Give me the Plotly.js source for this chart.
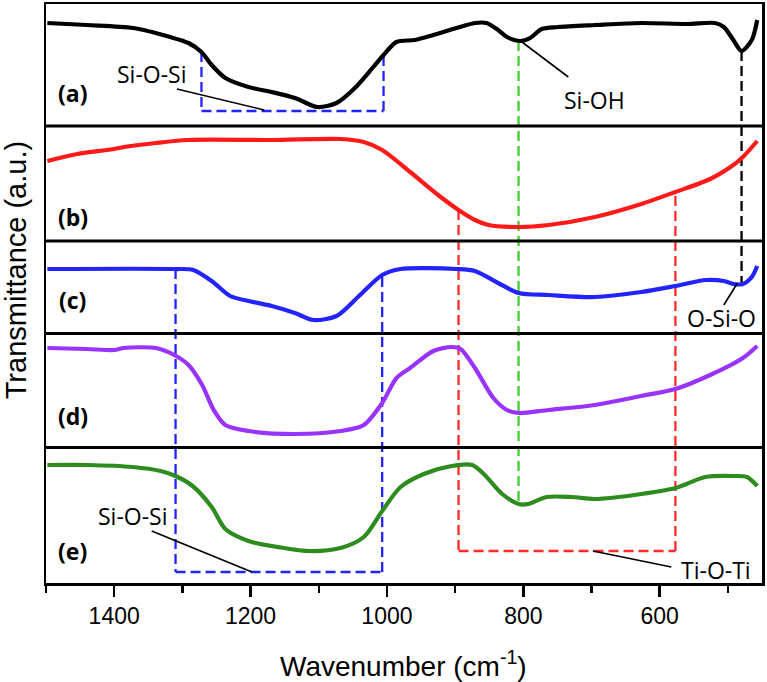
<!DOCTYPE html>
<html>
<head>
<meta charset="utf-8">
<script src="https://cdn.plot.ly/plotly-3.0.1.min.js"></script>
<style>html,body{margin:0;padding:0;background:#fff;}#chart{width:767px;height:682px;}</style>
</head>
<body>
<div id="chart"></div>
<script>
// ---- data (wavenumber in cm^-1, stacked transmittance in a.u.) ----
const wnA = [1498,1440,1372,1318,1291,1272,1257,1237,1203,1169,1135,1102,1074,1047,1020,1005,986,959,932,898,871,854,837,824,804,790,773,749,695,627,560,519,506,492,480,465,457];
const trA = [560,558,555,546,540,531,518,505,496,491,485,476,480,495,516,528,541,543,548,555,560,560,553,546,542,545,554,556,558,560,559,560,556,543,532,543,563];

const wnB = [1498,1454,1400,1386,1339,1291,1169,1068,1034,1007,966,925,895,871,851,807,763,695,627,577,526,492,478,457];
const trB = [422,429,434,436,440,443,443,444,441,433,411,388,373,363,358,356,358,366,379,391,404,418,426,442];

const wnC = [1498,1312,1284,1257,1230,1203,1169,1135,1108,1074,1041,1007,980,898,871,837,807,763,695,627,577,532,506,492,478,465,457];
const trC = [314,314,313,302,287,282,277,270,263,267,287,308,314,314,312,300,290,288,286,291,297,303,302,299,299,306,317];

const wnD = [1498,1440,1400,1386,1339,1312,1291,1271,1254,1237,1203,1135,1068,1034,1007,986,966,932,905,892,871,844,824,807,763,695,627,577,526,478,457];
const trD = [235,234,233,235,235,228,218,198,173,158,152,149,152,158,180,205,215,232,236,234,215,185,173,170,173,178,187,194,208,225,237];

const wnE = [1498,1440,1373,1332,1310,1285,1257,1237,1203,1169,1115,1068,1034,1007,980,946,905,875,858,831,807,793,766,729,695,627,577,533,492,472,457];
const trE = [118,118,116,112,107,97,76,54,42,37,32,35,46,72,96,109,117,118,109,89,79,79,86,86,84,89,95,106,107,106,97];

const seriesColors = ['#000000','#ff1a1a','#2323ff','#9933ff','#2e8b1e'];
const panelLabels = ['(a)','(b)','(c)','(d)','(e)'];
const panelLabelY = [490,366,283,167,32];
const panelBreaks = [457,342,249.5,135.5];

// band markers (wavenumbers)
const siOSiTop = [1272,1005];      // panel (a) box
const siOSiBottom = [1310,1007];   // panels (c)-(e) box
const tiOTi = [895,577];
const siOH = 807;
const oSiO = 480;

// ---- traces ----
const xs = [wnA,wnB,wnC,wnD,wnE];
const ys = [trA,trB,trC,trD,trE];
const traces = xs.map((x,i)=>({
  x:x, y:ys[i], type:'scatter', mode:'lines',
  line:{color:seriesColors[i], width:4.2, shape:'spline', smoothing:0.8},
  hoverinfo:'skip'
}));

// ---- shapes ----
const shapes = [];
panelBreaks.forEach(v=>shapes.push({type:'line',xref:'paper',yref:'y',x0:0,x1:1,y0:v,y1:v,line:{color:'#000',width:3},layer:'above'}));
const dsh = '10px,5px';
function dl(x0,y0,x1,y1,c){shapes.push({type:'line',xref:'x',yref:'y',x0:x0,y0:y0,x1:x1,y1:y1,line:{color:c,width:2.3,dash:dsh},layer:'below'});}
function sl(x0,y0,x1,y1){shapes.push({type:'line',xref:'x',yref:'y',x0:x0,y0:y0,x1:x1,y1:y1,line:{color:'#000',width:1.6}});}
// panel (a) Si-O-Si box
dl(siOSiTop[0],531,siOSiTop[0],472,'#2323ff');
dl(siOSiTop[0],472,siOSiTop[1],472,'#2323ff');
dl(siOSiTop[1],472,siOSiTop[1],528,'#2323ff');
// lower Si-O-Si box
dl(siOSiBottom[0],314,siOSiBottom[0],11,'#2323ff');
dl(siOSiBottom[0],11,siOSiBottom[1],11,'#2323ff');
dl(siOSiBottom[1],11,siOSiBottom[1],308,'#2323ff');
// Ti-O-Ti box
dl(tiOTi[0],373,tiOTi[0],32,'#ff2a2a');
dl(tiOTi[0],32,tiOTi[1],32,'#ff2a2a');
dl(tiOTi[1],32,tiOTi[1],391,'#ff2a2a');
// Si-OH and O-Si-O lines
dl(siOH,542,siOH,79,'#3fcf2f');
dl(oSiO,532,oSiO,300,'#000000');
// leader lines
sl(1308,494,1180,473);
sl(804,542,734,506);
sl(486,300,506,278);
sl(1345,52,1198,11);
sl(698,32,583,16);

// ---- annotations ----
const lblFont = {family:'Open Sans, DejaVu Sans, sans-serif', size:23, color:'#000'};
const annotations = [
  {x:1345,y:509,text:'Si-O-Si'},
  {x:695,y:483,text:'Si-OH'},
  {x:510,y:265,text:'O-Si-O'},
  {x:1372,y:67,text:'Si-O-Si'},
  {x:517,y:13,text:'Ti-O-Ti'}
].map(a=>Object.assign({xref:'x',yref:'y',showarrow:false,font:lblFont,xanchor:'center',yanchor:'middle'},a));
panelLabels.forEach((t,i)=>annotations.push({xref:'x',yref:'y',x:1461,y:panelLabelY[i],text:'<b>'+t+'</b>',showarrow:false,
  font:{family:'Open Sans, DejaVu Sans, sans-serif',size:23,color:'#000'},xanchor:'center',yanchor:'middle'}));
annotations.push({xref:'paper',yref:'paper',x:-0.042,y:0.54,text:'Transmittance (a.u.)',textangle:-90,showarrow:false,
  font:{family:'Liberation Sans, Arial, sans-serif',size:29,color:'#000'},xanchor:'center',yanchor:'middle'});
annotations.push({xref:'paper',yref:'paper',x:0.499,y:-0.14,text:'Wavenumber (cm<sup>-1</sup>)',showarrow:false,
  font:{family:'Liberation Sans, Arial, sans-serif',size:28,color:'#000'},xanchor:'center',yanchor:'middle'});

const layout = {
  width:767, height:682,
  margin:{l:46,r:5,t:4,b:99,pad:0},
  paper_bgcolor:'#fff', plot_bgcolor:'#fff',
  showlegend:false,
  xaxis:{range:[1500,450], tick0:0, dtick:200, ticks:'outside', ticklen:11, tickwidth:2.5, tickcolor:'#000',
    showline:true, mirror:true, linecolor:'#000', linewidth:2.5, showgrid:false, zeroline:false,
    tickfont:{family:'Liberation Sans, Arial, sans-serif', size:23, color:'#000'},
    minor:{dtick:100, tick0:0, ticks:'outside', ticklen:7, tickwidth:2.5, tickcolor:'#000', showgrid:false}},
  yaxis:{range:[0,579], showline:true, mirror:true, linecolor:'#000', linewidth:2.5, showgrid:false, zeroline:false,
    showticklabels:false, ticks:''},
  shapes:shapes,
  annotations:annotations
};
Plotly.newPlot('chart', traces, layout, {displayModeBar:false, staticPlot:true});
</script>
</body>
</html>
